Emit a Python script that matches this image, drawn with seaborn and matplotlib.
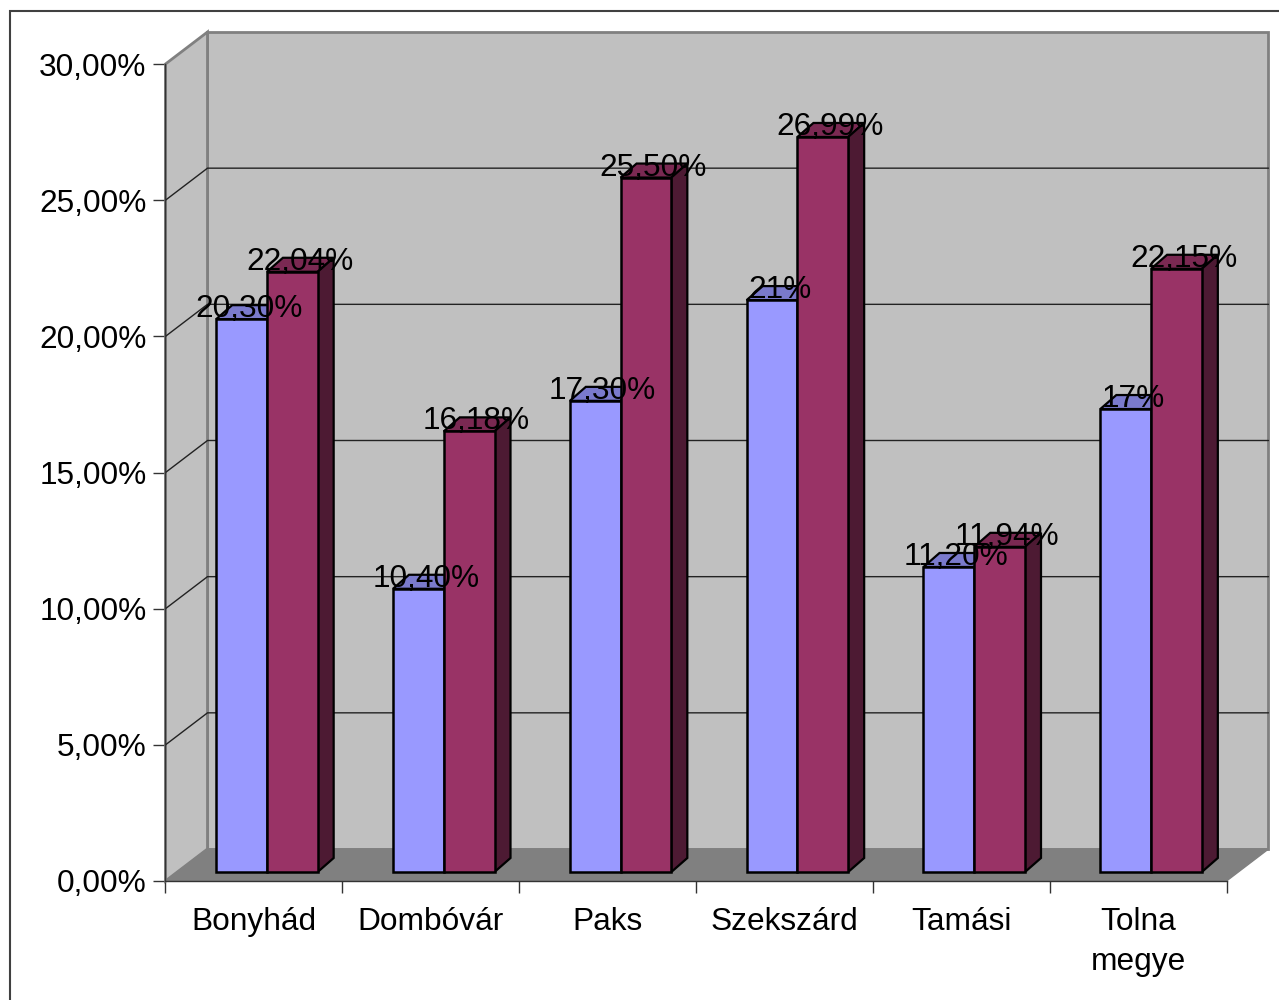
import matplotlib
matplotlib.use("Agg")
import matplotlib.pyplot as plt
from matplotlib.patches import Polygon
from matplotlib.transforms import Affine2D
from matplotlib.lines import Line2D
import pandas as pd
import seaborn as sns

categories = ["Bonyhád", "Dombóvár", "Paks", "Szekszárd", "Tamási", "Tolna\nmegye"]
series_a = [20.30, 10.40, 17.30, 21.00, 11.20, 17.00]
series_b = [22.04, 16.18, 25.50, 26.99, 11.94, 22.15]
labels_a = ["20,30%", "10,40%", "17,30%", "21%", "11,20%", "17%"]
labels_b = ["22,04%", "16,18%", "25,50%", "26,99%", "11,94%", "22,15%"]
y_ticks = [0, 5, 10, 15, 20, 25, 30]
y_tick_labels = ["0,00%", "5,00%", "10,00%", "15,00%", "20,00%", "25,00%", "30,00%"]

BLUE, RED = "#9999FF", "#993366"
BLUE_TOP, BLUE_SIDE = "#7A7ACC", "#4D4D80"
RED_TOP, RED_SIDE = "#7A2952", "#4D1A33"
WALL, FLOOR, EDGE = "#C0C0C0", "#808080", "#808080"
FS = 22.8

sns.set_theme(style="white")
plt.rcParams["font.family"] = ["Liberation Sans", "DejaVu Sans"]

W, H = 1279, 1000
fig = plt.figure(figsize=(W / 100, H / 100), dpi=100, facecolor="white")
ax = fig.add_axes([165.5 / W, (H - 881) / H, (1227 - 166) / W, 817 / H])
ax.patch.set_visible(False)

df = pd.DataFrame({
    "place": categories * 2,
    "value": series_a + series_b,
    "series": ["a"] * 6 + ["b"] * 6,
})
sns.barplot(data=df, x="place", y="value", hue="series", palette=[BLUE, RED],
            width=0.574, gap=0, edgecolor="black", linewidth=1.8, saturation=1,
            legend=False, ax=ax, zorder=10)
a_bars, b_bars = list(ax.containers[0]), list(ax.containers[1])

ax.set_xlim(-0.5, 5.5)
ax.set_ylim(0, 30)
PX = (1227 - 166) / 6      # pixels per category
PY = 817 / 30              # pixels per percent point

# walls and floor
wx, wy = 42 / PX, 32 / PY
ax.add_patch(Polygon([(-.5 + wx, wy), (5.5 + wx, wy), (5.5 + wx, 30 + wy), (-.5 + wx, 30 + wy)],
                     fc=WALL, ec=EDGE, lw=2, clip_on=False, zorder=1, joinstyle="miter"))
ax.add_patch(Polygon([(-.5, 0), (-.5 + wx, wy), (-.5 + wx, 30 + wy), (-.5, 30)],
                     fc=WALL, ec=EDGE, lw=2, clip_on=False, zorder=1.1))
ax.add_patch(Polygon([(-.5, 0), (5.5, 0), (5.5 + wx, wy), (-.5 + wx, wy)],
                     fc=FLOOR, ec=EDGE, lw=1, clip_on=False, zorder=1.2))
for t in y_ticks[1:-1]:
    ax.plot([-.5, -.5 + wx, 5.5 + wx], [t, t + wy, t + wy], color="#222222", lw=1,
            clip_on=False, zorder=2, solid_joinstyle="miter")

# bars: front faces from seaborn, shifted to mid-depth, with top and side faces
shift = ax.transData + Affine2D().translate(13, 9)
dx, dy = 16 / PX, 14 / PY
for group, top_c, side_c, labs, base in ((a_bars, BLUE_TOP, BLUE_SIDE, labels_a, 4),
                                         (b_bars, RED_TOP, RED_SIDE, labels_b, 6)):
    for b, lab in zip(group, labs):
        x0, x1, h = b.get_x(), b.get_x() + b.get_width(), b.get_height()
        b.set_transform(shift)
        b.set_clip_on(False)
        b.set_zorder(base + 1)
        ax.add_patch(Polygon([(x0, h), (x1, h), (x1 + dx, h + dy), (x0 + dx, h + dy)],
                             fc=top_c, ec="black", lw=1.6, transform=shift,
                             clip_on=False, zorder=base))
        ax.add_patch(Polygon([(x1, 0), (x1 + dx, dy), (x1 + dx, h + dy), (x1, h)],
                             fc=side_c, ec="black", lw=1.6, transform=shift,
                             clip_on=False, zorder=base))
        ax.text((x0 + x1) / 2 + 7.5 / PX, h + 10 / PY, lab, transform=shift, ha="center",
                va="center", fontsize=FS, color="black", zorder=20, clip_on=False)

# axes and ticks
for s in ("top", "right"):
    ax.spines[s].set_visible(False)
for s in ("left", "bottom"):
    ax.spines[s].set_visible(True)
    ax.spines[s].set_color("#333333")
    ax.spines[s].set_linewidth(1)
    ax.spines[s].set_zorder(3)
ax.set_xlabel("")
ax.set_ylabel("")
ax.set_yticks(y_ticks, y_tick_labels, fontsize=FS, color="black")
ax.set_xticks([i - .5 for i in range(7)], [""] * 7)
ax.set_xticks(range(6), categories, minor=True, fontsize=FS, color="black", linespacing=1.43)
ax.tick_params(axis="y", left=True, length=8.6, width=1, color="#333333", pad=5)
ax.tick_params(axis="x", which="major", bottom=True, length=8.6, width=1, color="#333333")
ax.tick_params(axis="x", which="minor", bottom=False, length=0, pad=19)

# outer chart border
fig.add_artist(Line2D([10 / W, 10 / W, 1], [0, 1 - 11 / H, 1 - 11 / H], color="#404040", lw=1.5,
                      solid_joinstyle="miter"))

fig.savefig("out.png", dpi=100)
